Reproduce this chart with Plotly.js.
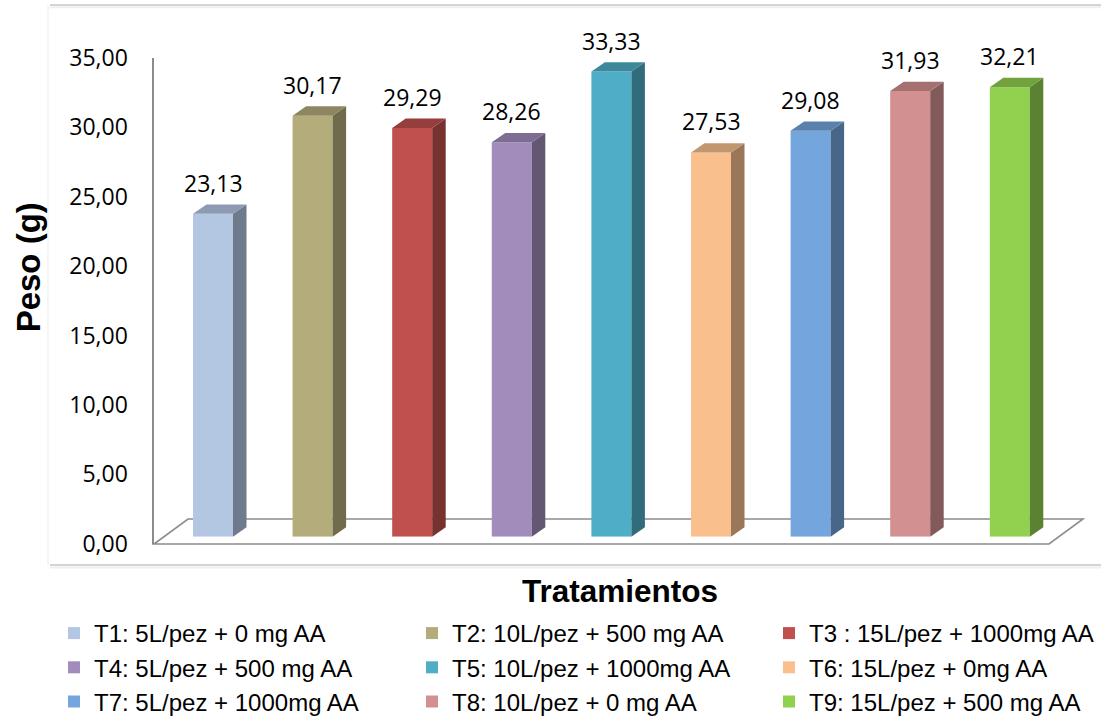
<!DOCTYPE html>
<html>
<head>
<meta charset="utf-8">
<script src="https://cdn.plot.ly/plotly-3.0.1.min.js"></script>
<style>
  html, body { margin: 0; padding: 0; background: #ffffff; width: 1101px; height: 724px; overflow: hidden; }
  #chart { width: 1101px; height: 724px; display: block; }
</style>
</head>
<body>
<div id="chart"></div>
<script>
// Treatments and mean weight (g)
const categories = ['T1', 'T2', 'T3', 'T4', 'T5', 'T6', 'T7', 'T8', 'T9'];
const legendNames = [
  'T1: 5L/pez + 0 mg AA',
  'T2: 10L/pez + 500 mg AA',
  'T3 : 15L/pez + 1000mg AA',
  'T4: 5L/pez + 500 mg AA',
  'T5: 10L/pez + 1000mg AA',
  'T6: 15L/pez + 0mg AA',
  'T7: 5L/pez + 1000mg AA',
  'T8: 10L/pez + 0 mg AA',
  'T9: 15L/pez + 500 mg AA'
];
const pesoValues = [23.13, 30.17, 29.29, 28.26, 33.33, 27.53, 29.08, 31.93, 32.21];
const yTicks = [0, 5, 10, 15, 20, 25, 30, 35];
const frontColors = ['#b3c7e3', '#b5ac7b', '#c0504d', '#a18cbb', '#4eaec7',
                     '#f9c08e', '#74a5dd', '#d29190', '#92d050'];

// ---- page geometry (pixels) ----
const W = 1101, H = 724;
const fx = p => p / W;
const fy = p => 1 - p / H;
const slotPx = 99.6;          // distance between bar centres
const firstCenterPx = 213;    // centre of first bar
const plotLeftPx = 154, plotRightPx = 1083;
const barBasePx = 548, pxPerUnit = 14.25;
const barWidth = 40 / slotPx;           // in category units
const depthX = 13.5 / slotPx;           // 3D depth, horizontal
const depthY = 9.5 / pxPerUnit;         // 3D depth, vertical

function shade(hex, k) {
  const n = parseInt(hex.slice(1), 16);
  const r = Math.round(((n >> 16) & 255) * k);
  const g = Math.round(((n >> 8) & 255) * k);
  const b = Math.round((n & 255) * k);
  return `rgb(${r},${g},${b})`;
}

const legendIds = ['legend', 'legend2', 'legend3'];
const traces = [];

// front faces as bars
pesoValues.forEach((v, i) => {
  traces.push({
    type: 'bar', x: [i], y: [v], xaxis: 'x2', yaxis: 'y2',
    width: barWidth, name: legendNames[i], legend: legendIds[i % 3],
    marker: { color: frontColors[i], line: { width: 0 } },
    hoverinfo: 'name+y'
  });
});

// side and top faces of each bar
pesoValues.forEach((v, i) => {
  const x0 = i - barWidth / 2, x1 = i + barWidth / 2;
  traces.push({
    type: 'scatter', mode: 'lines', xaxis: 'x2', yaxis: 'y2',
    x: [x1, x1 + depthX, x1 + depthX, x1, x1],
    y: [0, depthY, v + depthY, v, 0],
    fill: 'toself', fillcolor: shade(frontColors[i], 0.62),
    line: { width: 0 }, showlegend: false, hoverinfo: 'skip'
  });
  traces.push({
    type: 'scatter', mode: 'lines', xaxis: 'x2', yaxis: 'y2',
    x: [x0, x1, x1 + depthX, x0 + depthX, x0],
    y: [v, v, v + depthY, v + depthY, v],
    fill: 'toself', fillcolor: shade(frontColors[i], 0.78),
    line: { width: 0 }, showlegend: false, hoverinfo: 'skip'
  });
});

// keeps the value axis subplot alive
traces.push({ type: 'scatter', x: [], y: [], xaxis: 'x', yaxis: 'y', showlegend: false, hoverinfo: 'skip' });

// value labels above bars
const fmt = v => v.toFixed(2).replace('.', ',');
const annotations = pesoValues.map((v, i) => ({
  xref: 'x2', yref: 'y2', x: i, y: v, text: fmt(v),
  showarrow: false, yanchor: 'bottom', xanchor: 'center', yshift: 13,
  font: { family: 'Open Sans, sans-serif', size: 23, color: '#000000' }
}));
annotations.push({
  xref: 'paper', yref: 'paper', x: fx(28), y: fy(273), text: '<b>Peso (g)</b>',
  textangle: -90, showarrow: false, xanchor: 'center', yanchor: 'middle',
  font: { family: 'Liberation Sans, Arial, sans-serif', size: 33, color: '#000000' }
});
annotations.push({
  xref: 'paper', yref: 'paper', x: fx(620), y: fy(603), text: '<b>Tratamientos</b>',
  showarrow: false, xanchor: 'center', yanchor: 'middle',
  font: { family: 'Liberation Sans, Arial, sans-serif', size: 31.5, color: '#000000' }
});

// floor of the 3D plot and chart frame
const floorFront = 555.5, floorBack = 530, floorShift = 34;
const floorPath =
  `M${fx(plotLeftPx)},${fy(floorFront)} L${fx(plotRightPx - floorShift)},${fy(floorFront)} ` +
  `L${fx(plotRightPx)},${fy(floorBack)} L${fx(plotLeftPx + floorShift)},${fy(floorBack)} Z`;
const shapes = [
  { type: 'line', xref: 'paper', yref: 'paper', x0: fx(50), x1: 1, y0: fy(5), y1: fy(5),
    line: { color: '#d4d4d4', width: 2 }, layer: 'below' },
  { type: 'line', xref: 'paper', yref: 'paper', x0: fx(50), x1: 1, y0: fy(7.5), y1: fy(7.5),
    line: { color: '#efefef', width: 2 }, layer: 'below' },
  { type: 'line', xref: 'paper', yref: 'paper', x0: fx(50), x1: 1, y0: fy(577), y1: fy(577),
    line: { color: '#d4d4d4', width: 2 }, layer: 'below' },
  { type: 'line', xref: 'paper', yref: 'paper', x0: fx(50), x1: 1, y0: fy(579.5), y1: fy(579.5),
    line: { color: '#efefef', width: 2 }, layer: 'below' },
  { type: 'line', xref: 'paper', yref: 'paper', x0: fx(48), x1: fx(48), y0: fy(5), y1: fy(577),
    line: { color: '#f2f2f2', width: 1.5 }, layer: 'below' },
  { type: 'path', xref: 'paper', yref: 'paper', path: floorPath,
    line: { color: '#8c8c8c', width: 1.6 }, fillcolor: 'rgba(0,0,0,0)', layer: 'below' }
];

const legendBase = {
  xanchor: 'left', yanchor: 'top', y: fy(624), orientation: 'v',
  bgcolor: 'rgba(0,0,0,0)', borderwidth: 0,
  font: { family: 'Liberation Sans, Arial, sans-serif', size: 24, color: '#000000' }
};

const layout = {
  width: W, height: H,
  margin: { l: 0, r: 0, t: 0, b: 0, pad: 0 },
  paper_bgcolor: '#ffffff', plot_bgcolor: 'rgba(0,0,0,0)',
  separators: ',.',
  barmode: 'overlay',
  showlegend: true,
  xaxis: { domain: [fx(plotLeftPx), fx(plotRightPx)], range: [0, 1], visible: false, fixedrange: true },
  yaxis: {
    anchor: 'x', domain: [fy(555), fy(59.3)], range: [0, 35],
    tickvals: yTicks, tickformat: '.2f', ticks: '', ticklabelstandoff: 20,
    showline: true, linecolor: '#8c8c8c', linewidth: 1.6,
    showgrid: false, zeroline: false, fixedrange: true,
    tickfont: { family: 'Open Sans, sans-serif', size: 23, color: '#000000' }
  },
  xaxis2: {
    anchor: 'y2', domain: [fx(plotLeftPx), fx(plotRightPx)],
    range: [(plotLeftPx - firstCenterPx) / slotPx, (plotRightPx - firstCenterPx) / slotPx],
    visible: false, fixedrange: true
  },
  yaxis2: {
    anchor: 'x2', domain: [fy(barBasePx), fy(barBasePx - 35 * pxPerUnit)], range: [0, 35],
    visible: false, fixedrange: true
  },
  legend: Object.assign({}, legendBase, { x: fx(54) }),
  legend2: Object.assign({}, legendBase, { x: fx(412) }),
  legend3: Object.assign({}, legendBase, { x: fx(769) }),
  annotations: annotations,
  shapes: shapes
};

Plotly.newPlot('chart', traces, layout, { displayModeBar: false, staticPlot: true });
</script>
</body>
</html>
